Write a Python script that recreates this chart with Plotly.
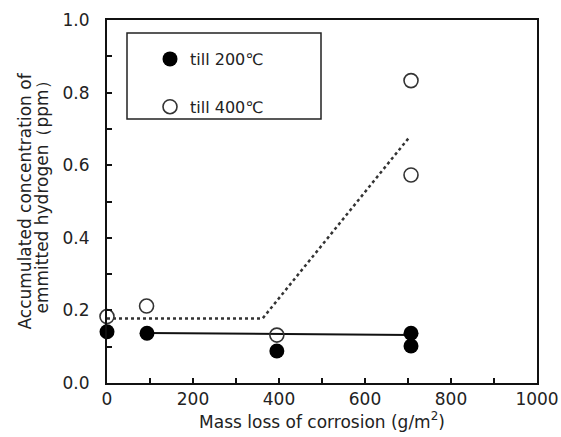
import plotly.graph_objects as go

# data
x200 = [0, 93, 395, 707, 707]
y200 = [0.141, 0.137, 0.088, 0.137, 0.102]
x400 = [0, 92, 395, 707, 707]
y400 = [0.183, 0.212, 0.132, 0.833, 0.573]
fit200_x = [93, 707]
fit200_y = [0.138, 0.132]
fit400_x = [0, 362, 701]
fit400_y = [0.178, 0.178, 0.674]
ytitle_lines = ["Accumulated concentration of", "emmitted hydrogen（ppm）"]
xtitle = "Mass loss of corrosion (g/m<sup>2</sup>)"

FONT = "DejaVu Sans, Liberation Sans, Arial"
TXT = "#222"

fig = go.Figure()
fig.add_trace(go.Scatter(x=fit200_x, y=fit200_y, mode="lines",
                         line=dict(color="#111", width=2), showlegend=False))
fig.add_trace(go.Scatter(x=fit400_x, y=fit400_y, mode="lines",
                         line=dict(color="#333", width=2.5, dash="dot"), showlegend=False))
fig.add_trace(go.Scatter(x=x400, y=y400, mode="markers", name="till 400℃",
                         legendgroup="b", legendrank=2, cliponaxis=False,
                         marker=dict(symbol="circle-open", size=14, color="#333",
                                     line=dict(width=1.6, color="#333"))))
fig.add_trace(go.Scatter(x=x200, y=y200, mode="markers", name="till 200℃",
                         legendgroup="a", legendrank=1, cliponaxis=False,
                         marker=dict(symbol="circle", size=15, color="#000")))

axis_common = dict(showline=True, linewidth=2, linecolor="#111", mirror=True,
                   ticks="inside", ticklen=5, tickwidth=1.5, tickcolor="#111",
                   showgrid=False, zeroline=False, automargin=False,
                   tickfont=dict(family=FONT, size=17, color=TXT))

fig.update_xaxes(range=[0, 1000], dtick=200, tick0=0,
                 minor=dict(dtick=100, ticks="inside", ticklen=5, tickcolor="#111"),
                 title=dict(text=xtitle, font=dict(family=FONT, size=17, color=TXT),
                            standoff=4),
                 **axis_common)
fig.update_yaxes(range=[0, 1.0], dtick=0.2, tick0=0, tickformat=".1f",
                 ticklabelstandoff=12,
                 minor=dict(dtick=0.1, ticks="inside", ticklen=5, tickcolor="#111"),
                 **axis_common)

# y-axis title as two tightly spaced lines
fig.add_annotation(text=ytitle_lines[0], xref="paper", yref="paper", x=0, y=0.5,
                   xanchor="center", yanchor="middle", textangle=-90, showarrow=False,
                   xshift=-83, font=dict(family=FONT, size=17, color=TXT))
fig.add_annotation(text=ytitle_lines[1], xref="paper", yref="paper", x=0, y=0.5,
                   xanchor="center", yanchor="middle", textangle=-90, showarrow=False,
                   xshift=-66, yshift=8, font=dict(family=FONT, size=17, color=TXT))

fig.add_shape(type="rect", xref="paper", yref="paper",
              x0=(127-107)/430, x1=(321-107)/430,
              y0=(383-119)/363, y1=(383-33)/363,
              line=dict(color="#222", width=1.5), fillcolor="rgba(0,0,0,0)")

fig.update_layout(
    width=561, height=437,
    margin=dict(l=107, r=24, t=20, b=54, autoexpand=False),
    paper_bgcolor="white", plot_bgcolor="white",
    showlegend=True,
    legend=dict(x=(150-107)/430, y=(383-42)/363, xanchor="left", yanchor="top",
                bgcolor="rgba(0,0,0,0)", borderwidth=0,
                tracegroupgap=24, traceorder="grouped",
                font=dict(family=FONT, size=16, color=TXT)),
)

fig.write_html("out.html")
